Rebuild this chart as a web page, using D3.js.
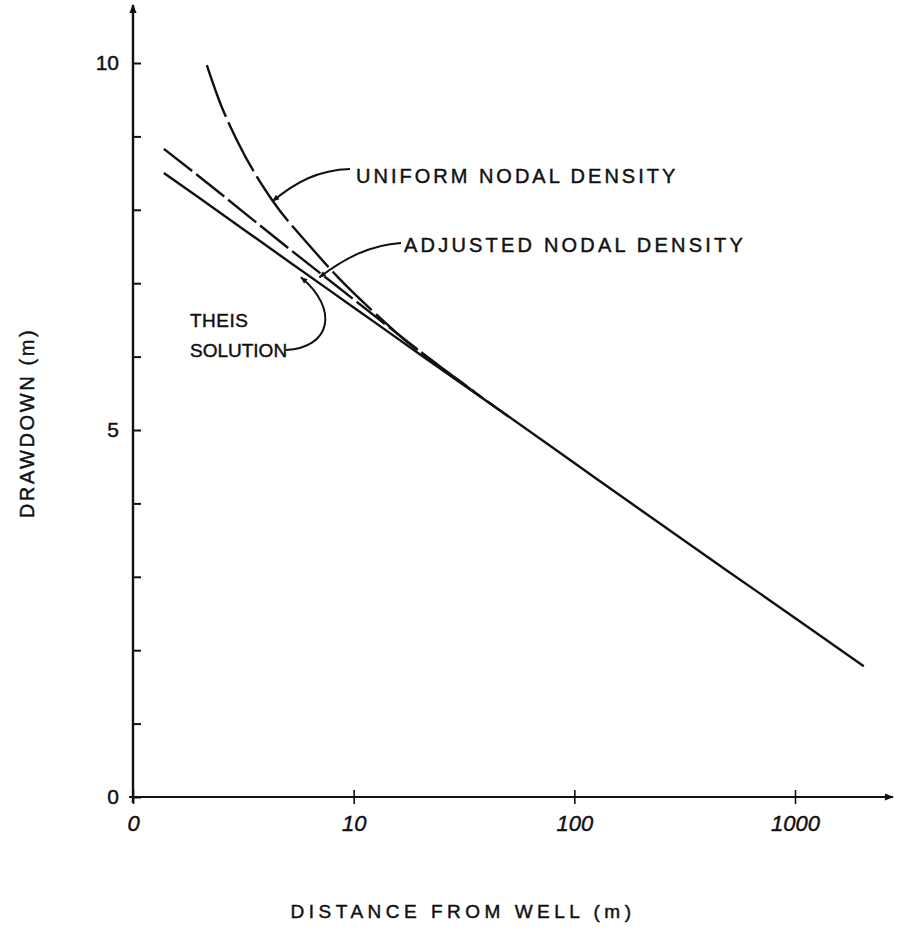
<!DOCTYPE html>
<html>
<head>
<meta charset="utf-8">
<script src="https://cdn.jsdelivr.net/npm/d3@7"></script>
<style>
  body { margin: 0; background: #fff; }
  text { font-family: "Liberation Sans", Arial, sans-serif; fill: #111; stroke: #111; stroke-width: 0.45; }
</style>
</head>
<body>
<script>
//chart data
//distance from well (m) and drawdown (m) for each curve
var theisDist = [1.38, 2, 5, 10, 20, 50, 100, 200, 500, 1000, 2050];
var theisDraw = [8.50, 8.16, 7.31, 6.67, 6.03, 5.19, 4.55, 3.91, 3.07, 2.44, 1.78];

var adjustedDist = [1.38, 2, 5, 10, 20, 30, 50];
var adjustedDraw = [8.83, 8.45, 7.49, 6.78, 6.07, 5.67, 5.19];

var uniformDist = [2.16, 2.45, 3.0, 4.3, 6.4, 8.5, 12, 17, 25, 35];
var uniformDraw = [9.97, 9.50, 8.91, 8.12, 7.49, 7.08, 6.64, 6.23, 5.85, 5.53];

//tick values and their labels (origin is labelled "0" in the original)
var xTickValues = [1, 10, 100, 1000];
var xTickLabels = ["0", "10", "100", "1000"];
var yTickValues = [0, 1, 2, 3, 4, 5, 6, 7, 8, 9, 10];
var yTickLabels = ["0", "", "", "", "", "5", "", "", "", "", "10"];

//canvas
var width = 898;
var height = 943;

var svg = d3.select("body").append("svg")
    .attr("width", width)
    .attr("height", height);

svg.append("rect").attr("width", width).attr("height", height).attr("fill", "#fff");

//scales
var x = d3.scaleLog().domain([1, 1000]).range([133, 795]);
var y = d3.scaleLinear().domain([0, 10]).range([797, 63]);

//arrow marker for axes and leaders
var defs = svg.append("defs");
defs.append("marker")
    .attr("id", "arrow")
    .attr("viewBox", "0 0 10 10")
    .attr("refX", 9).attr("refY", 5)
    .attr("markerWidth", 11).attr("markerHeight", 7)
    .attr("markerUnits", "userSpaceOnUse")
    .attr("orient", "auto")
    .append("path").attr("d", "M0,1 L10,5 L0,9 Z").attr("fill", "#111");
defs.append("marker")
    .attr("id", "axisarrow")
    .attr("viewBox", "0 0 10 10")
    .attr("refX", 9).attr("refY", 5)
    .attr("markerWidth", 16).attr("markerHeight", 9)
    .attr("markerUnits", "userSpaceOnUse")
    .attr("orient", "auto")
    .append("path").attr("d", "M0,1 L10,5 L0,9 Z").attr("fill", "#111");

//axis lines with arrows
svg.append("line")
    .attr("x1", x(1) - 4).attr("y1", y(0))
    .attr("x2", 893).attr("y2", y(0))
    .attr("stroke", "#111").attr("stroke-width", 2.2)
    .attr("marker-end", "url(#axisarrow)");
svg.append("line")
    .attr("x1", x(1)).attr("y1", y(0) + 6)
    .attr("x2", x(1)).attr("y2", 5)
    .attr("stroke", "#111").attr("stroke-width", 2.4)
    .attr("marker-end", "url(#axisarrow)");

//x axis ticks and labels
var xAxis = svg.append("g")
    .attr("transform", "translate(0," + y(0) + ")")
    .call(d3.axisBottom(x)
        .tickValues(xTickValues)
        .tickFormat(function (d, i) { return xTickLabels[i]; })
        .tickSize(7)
        .tickPadding(11));
xAxis.select(".domain").remove();
xAxis.selectAll(".tick line").attr("y1", -7).attr("stroke", "#111").attr("stroke-width", 1.6);
xAxis.selectAll(".tick text")
    .attr("font-size", 22).attr("font-style", "italic")
    .attr("font-family", "'Liberation Sans', Arial, sans-serif").attr("fill", "#111");

//y axis ticks and labels
var yAxis = svg.append("g")
    .attr("transform", "translate(" + x(1) + ",0)")
    .call(d3.axisLeft(y)
        .tickValues(yTickValues)
        .tickFormat(function (d, i) { return yTickLabels[i]; })
        .tickSize(8)
        .tickPadding(6));
yAxis.select(".domain").remove();
yAxis.selectAll(".tick line").attr("x2", 8).attr("stroke", "#111").attr("stroke-width", 2);
yAxis.selectAll(".tick text")
    .attr("font-size", 21)
    .attr("font-family", "'Liberation Sans', Arial, sans-serif").attr("fill", "#111");

//curves
var line = d3.line()
    .x(function (d) { return x(d[0]); })
    .y(function (d) { return y(d[1]); })
    .curve(d3.curveMonotoneX);

svg.append("path")
    .datum(d3.zip(theisDist, theisDraw))
    .attr("d", line)
    .attr("fill", "none").attr("stroke", "#111").attr("stroke-width", 2.4);

svg.append("path")
    .datum(d3.zip(adjustedDist, adjustedDraw))
    .attr("d", line)
    .attr("fill", "none").attr("stroke", "#111").attr("stroke-width", 2.4)
    .attr("stroke-dasharray", "36,5");

svg.append("path")
    .datum(d3.zip(uniformDist, uniformDraw))
    .attr("d", line)
    .attr("fill", "none").attr("stroke", "#111").attr("stroke-width", 2.4)
    .attr("stroke-dasharray", "55,6");

//curve labels
svg.append("text")
    .attr("x", 356).attr("y", 183)
    .attr("font-size", 20).attr("letter-spacing", 3)
    .text("UNIFORM NODAL DENSITY");
svg.append("text")
    .attr("x", 404).attr("y", 252)
    .attr("font-size", 20).attr("letter-spacing", 3.2)
    .text("ADJUSTED NODAL DENSITY");
svg.append("text")
    .attr("x", 190).attr("y", 327)
    .attr("font-size", 19).attr("letter-spacing", 0.5)
    .text("THEIS");
svg.append("text")
    .attr("x", 190).attr("y", 357)
    .attr("font-size", 19).attr("letter-spacing", 0)
    .text("SOLUTION");

//leaders pointing from the labels to the curves
var uTip = [x(4.3), y(8.12)];
svg.append("path")
    .attr("d", "M350,169 C318,170 296,182 " + uTip[0] + "," + uTip[1])
    .attr("fill", "none").attr("stroke", "#111").attr("stroke-width", 2)
    .attr("marker-end", "url(#arrow)");

var aTip = [x(7), y(7.08)];
svg.append("path")
    .attr("d", "M401,243 C370,245 345,258 " + aTip[0] + "," + aTip[1])
    .attr("fill", "none").attr("stroke", "#111").attr("stroke-width", 2)
    .attr("marker-end", "url(#arrow)");

var tTip = [x(5.77), y(7.08)];
svg.append("path")
    .attr("d", "M286,350 C330,348 340,310 " + tTip[0] + "," + tTip[1])
    .attr("fill", "none").attr("stroke", "#111").attr("stroke-width", 2)
    .attr("marker-end", "url(#arrow)");

//axis titles
svg.append("text")
    .attr("transform", "translate(34,423) rotate(-90)")
    .attr("text-anchor", "middle")
    .attr("font-size", 20).attr("letter-spacing", 2.6)
    .text("DRAWDOWN (m)");
svg.append("text")
    .attr("x", 463).attr("y", 918)
    .attr("text-anchor", "middle")
    .attr("font-size", 19).attr("letter-spacing", 4.5)
    .text("DISTANCE FROM WELL (m)");
</script>
</body>
</html>
